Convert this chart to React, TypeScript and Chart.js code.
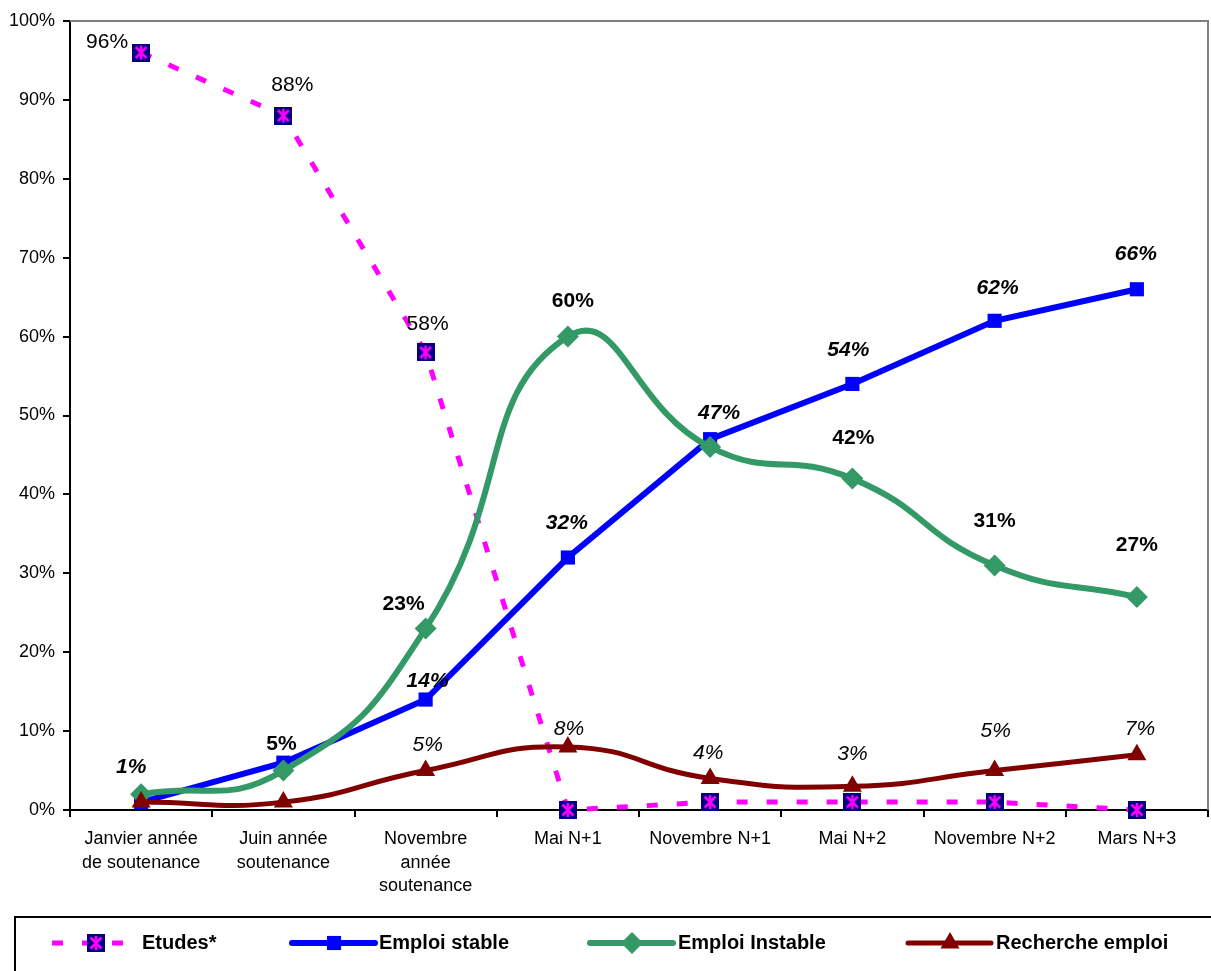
import React, { useEffect, useRef } from 'react';
import { Chart, registerables } from 'chart.js';
import { drawPoint } from 'chart.js/helpers';

Chart.register(...registerables);

// ---------- data ----------
const categories: (string | string[])[] = [
  ['Janvier année', 'de soutenance'],
  ['Juin année', 'soutenance'],
  ['Novembre', 'année', 'soutenance'],
  'Mai N+1',
  'Novembre N+1',
  'Mai N+2',
  'Novembre N+2',
  'Mars N+3',
];
const etudes = [96, 88, 58, 0, 1, 1, 1, 0];
const emploiStable = [1, 6, 14, 32, 47, 54, 62, 66];
const emploiInstable = [2, 5, 23, 60, 46, 42, 31, 27];
const rechercheEmploi = [1, 1, 5, 8, 4, 3, 5, 7];
const seriesNames = ['Etudes*', 'Emploi stable', 'Emploi Instable', 'Recherche emploi'];
const yMin = 0;
const yMax = 100;
const yStep = 10;

// ---------- label placement (style, not data) ----------
type Off = [number, number] | null;
const etudesLabelOffsets: Off[] = [[-34, -10], [9, -30], [2, -28], null, null, null, null, null];
const stableLabelOffsets: Off[] = [[-10, -35], null, [2, -18], [-1, -34], [9, -26], [-4, -34], [3, -33], [-1, -35]];
const instableLabelOffsets: Off[] = [null, [-2, -26], [-22, -24], [5, -35], null, [1, -40], [0, -44], [0, -52]];
const rechercheLabelOffsets: Off[] = [null, null, [2, -25], [1, -18], [-2, -25], [0, -32], [1, -39], [3, -26]];
const labelOffsets = [etudesLabelOffsets, stableLabelOffsets, instableLabelOffsets, rechercheLabelOffsets];
const labelFonts = [
  'normal 21px "Liberation Sans", Arial, sans-serif',
  'italic bold 21px "Liberation Sans", Arial, sans-serif',
  'bold 21px "Liberation Sans", Arial, sans-serif',
  'italic 21px "Liberation Sans", Arial, sans-serif',
];

// legend layout
const legendLineStart = [52, 292, 590, 908];
const legendLineEnd = [126, 375, 673, 991];
const legendMarkerX = [96, 334, 632, 950];
const legendTextX = [142, 379, 678, 996];
const legendY = 943;

const FONT = '"Liberation Sans", Arial, sans-serif';

function makeEtudesMarker(): HTMLCanvasElement {
  const c = document.createElement('canvas');
  c.width = 18;
  c.height = 18;
  const g = c.getContext('2d')!;
  g.fillStyle = '#000080';
  g.fillRect(0, 0, 18, 18);
  g.strokeStyle = '#FF00FF';
  g.lineWidth = 2.5;
  g.beginPath();
  g.moveTo(9, 2); g.lineTo(9, 16);
  g.moveTo(3.5, 3.5); g.lineTo(14.5, 14.5);
  g.moveTo(14.5, 3.5); g.lineTo(3.5, 14.5);
  g.stroke();
  return c;
}

export default function App() {
  const ref = useRef<HTMLCanvasElement | null>(null);

  useEffect(() => {
    const canvas = ref.current;
    if (!canvas) return;
    const marker = makeEtudesMarker();

    const framePlugin = {
      id: 'frame',
      beforeDatasetsDraw(chart: any) {
        const { ctx, chartArea } = chart;
        ctx.save();
        ctx.strokeStyle = '#808080';
        ctx.lineWidth = 2;
        ctx.beginPath();
        ctx.moveTo(chartArea.left, chartArea.top);
        ctx.lineTo(chartArea.right, chartArea.top);
        ctx.lineTo(chartArea.right, chartArea.bottom);
        ctx.stroke();
        ctx.restore();
      },
    };

    const labelPlugin = {
      id: 'valueLabels',
      afterDatasetsDraw(chart: any) {
        const { ctx } = chart;
        ctx.save();
        ctx.fillStyle = '#000';
        ctx.textAlign = 'center';
        ctx.textBaseline = 'middle';
        chart.data.datasets.forEach((ds: any, i: number) => {
          const meta = chart.getDatasetMeta(i);
          ctx.font = labelFonts[i];
          meta.data.forEach((el: any, j: number) => {
            const off = labelOffsets[i][j];
            if (!off) return;
            ctx.fillText(ds.data[j] + '%', el.x + off[0], el.y + off[1]);
          });
        });
        ctx.restore();
      },
    };

    const legendPlugin = {
      id: 'customLegend',
      afterDraw(chart: any) {
        const { ctx } = chart;
        ctx.save();
        ctx.strokeStyle = '#000';
        ctx.lineWidth = 2;
        ctx.strokeRect(15, 917, 1400, 200);
        chart.data.datasets.forEach((ds: any, i: number) => {
          ctx.save();
          ctx.strokeStyle = ds.borderColor;
          ctx.lineWidth = ds.borderWidth;
          ctx.lineCap = ds.borderDash ? 'butt' : 'round';
          ctx.setLineDash(ds.borderDash || []);
          ctx.beginPath();
          ctx.moveTo(legendLineStart[i], legendY);
          ctx.lineTo(legendLineEnd[i], legendY);
          ctx.stroke();
          ctx.restore();
          ctx.save();
          ctx.fillStyle = ds.pointBackgroundColor;
          ctx.strokeStyle = ds.pointBackgroundColor;
          drawPoint(ctx, { pointStyle: ds.pointStyle, radius: ds.pointRadius, borderWidth: 0, rotation: 0 } as any, legendMarkerX[i], legendY);
          ctx.restore();
          ctx.fillStyle = '#000';
          ctx.font = `bold 20px ${FONT}`;
          ctx.textAlign = 'left';
          ctx.textBaseline = 'middle';
          ctx.fillText(seriesNames[i], legendTextX[i], legendY);
        });
        ctx.restore();
      },
    };

    const chart = new Chart(canvas, {
      type: 'line',
      data: {
        labels: categories as any,
        datasets: [
          {
            label: seriesNames[0],
            data: etudes,
            borderColor: '#FF00FF',
            borderWidth: 5,
            borderDash: [11, 19],
            borderCapStyle: 'butt',
            pointStyle: marker as any,
            pointRadius: 9,
            pointBackgroundColor: '#000080',
            pointBorderWidth: 0,
            tension: 0,
            order: 4,
            clip: false as any,
          },
          {
            label: seriesNames[1],
            data: emploiStable,
            borderColor: '#0000FF',
            borderWidth: 6,
            pointStyle: 'rect',
            pointRadius: 10,
            pointBackgroundColor: '#0000FF',
            pointBorderColor: '#0000FF',
            pointBorderWidth: 0,
            tension: 0,
            order: 3,
            clip: false as any,
          },
          {
            label: seriesNames[2],
            data: emploiInstable,
            borderColor: '#339966',
            borderWidth: 6,
            pointStyle: 'rectRot',
            pointRadius: 11,
            pointBackgroundColor: '#339966',
            pointBorderColor: '#339966',
            pointBorderWidth: 0,
            tension: 0.5,
            order: 2,
            clip: false as any,
          },
          {
            label: seriesNames[3],
            data: rechercheEmploi,
            borderColor: '#800000',
            borderWidth: 5,
            pointStyle: 'triangle',
            pointRadius: 11,
            pointBackgroundColor: '#800000',
            pointBorderColor: '#800000',
            pointBorderWidth: 0,
            tension: 0.5,
            order: 1,
            clip: false as any,
          },
        ],
      },
      options: {
        responsive: false,
        animation: false,
        layout: { autoPadding: false, padding: { top: 21, right: 3, left: 0, bottom: 0 } },
        plugins: {
          legend: { display: false },
          tooltip: { enabled: false },
          title: { display: false },
        },
        scales: {
          x: {
            type: 'category',
            offset: true,
            grid: { offset: true, drawOnChartArea: false, drawTicks: true, tickLength: 7, color: '#000', lineWidth: 2 },
            border: { color: '#000', width: 2 },
            ticks: {
              color: '#000',
              font: { family: FONT, size: 18, lineHeight: 1.28 },
              padding: 11,
              maxRotation: 0,
              autoSkip: false,
            },
            afterFit: (s: any) => {
              s.height = 161;
              s.paddingLeft = 0;
              s.paddingRight = 0;
            },
          },
          y: {
            min: yMin,
            max: yMax,
            grid: { drawOnChartArea: false, drawTicks: true, tickLength: 7, color: '#000', lineWidth: 2 },
            border: { color: '#000', width: 2 },
            ticks: {
              stepSize: yStep,
              color: '#000',
              font: { family: FONT, size: 18 },
              padding: 8,
              callback: (v: any) => v + '%',
            },
            afterFit: (s: any) => {
              s.width = 70;
              s.paddingTop = 0;
              s.paddingBottom = 0;
            },
          },
        },
      },
      plugins: [framePlugin, labelPlugin, legendPlugin],
    } as any);

    return () => chart.destroy();
  }, []);

  return (
    <div style={{ position: 'absolute', left: 0, top: 0, width: 1211, height: 971, background: '#fff' }}>
      <canvas ref={ref} width={1211} height={971} style={{ width: 1211, height: 971, display: 'block' }} />
    </div>
  );
}
